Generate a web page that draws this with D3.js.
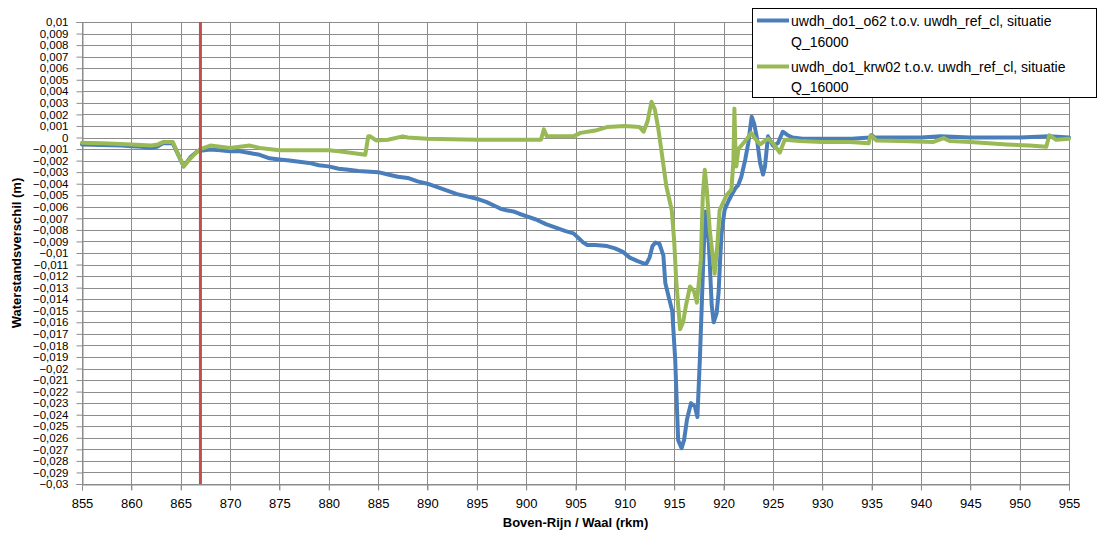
<!DOCTYPE html>
<html><head><meta charset="utf-8">
<script src="https://cdn.jsdelivr.net/npm/d3@7"></script>
<style>body{margin:0;background:#fff}svg{display:block}text{font-family:"Liberation Sans",Arial,sans-serif}</style>
</head><body><svg id="c" width="1099" height="535"></svg>
<script>
const seriesNames = ["uwdh_do1_o62 t.o.v. uwdh_ref_cl, situatie|Q_16000","uwdh_do1_krw02 t.o.v. uwdh_ref_cl, situatie|Q_16000"];
const xTicks = d3.range(855, 956, 5);
const yTicks = d3.range(-30, 11, 1).map(d => d / 1000);
const refKm = 867;
const blueKm = [855,857,859,860,861,862,862.6,863.2,864.2,865.3,866,866.7,867,868,869,870,871,872,873,874,875,876,877,878,879,880,881,882,883,885,886,887,888,889,890,891,892,893,894,895,896,897,897.5,898,898.7,899.3,900,901,902,903,904,904.8,905.3,905.8,906.2,907,908.2,909,909.8,910.5,911.3,911.9,912.2,912.5,912.8,913.1,913.5,913.9,914.1,914.5,914.8,915.1,915.4,915.75,916,916.3,916.7,917.1,917.35,917.6,917.95,918.15,918.5,918.8,919,919.3,919.5,919.65,919.8,920.1,920.5,920.8,921.2,921.5,921.8,922.2,922.5,922.85,923.1,923.35,923.7,924,924.2,924.5,925,925.5,926,926.5,927,928,930,933,934.8,935,935.3,940,942,945,950,953,955];
const blueVal = [-0.0006,-0.00065,-0.0007,-0.00075,-0.0008,-0.0009,-0.0008,-0.0005,-0.0005,-0.0025,-0.0017,-0.0012,-0.00115,-0.00105,-0.0011,-0.0012,-0.0012,-0.00135,-0.0015,-0.0018,-0.0019,-0.002,-0.0021,-0.0022,-0.0024,-0.0025,-0.0027,-0.0028,-0.0029,-0.003,-0.0032,-0.0034,-0.0035,-0.0038,-0.004,-0.0043,-0.0046,-0.0049,-0.0051,-0.0053,-0.0056,-0.006,-0.0062,-0.0063,-0.0064,-0.0066,-0.0068,-0.0071,-0.0075,-0.0078,-0.0081,-0.0083,-0.0087,-0.0091,-0.0093,-0.0093,-0.0094,-0.0096,-0.0099,-0.0104,-0.0107,-0.0109,-0.0109,-0.0104,-0.0094,-0.0091,-0.0092,-0.0102,-0.0126,-0.014,-0.015,-0.0192,-0.0262,-0.0269,-0.0262,-0.0244,-0.023,-0.0233,-0.0242,-0.0192,-0.0106,-0.0064,-0.009,-0.0145,-0.016,-0.0152,-0.0134,-0.0106,-0.0083,-0.0063,-0.0055,-0.005,-0.0044,-0.0041,-0.0034,-0.0019,-0.0005,0.0018,0.0012,0.0001,-0.0022,-0.0032,-0.0025,0.0001,-0.0007,-0.0005,0.0005,0.0002,0,-0.0001,-0.0001,-0.0001,0,0.0002,0,0,0.0001,0,0,0.0001,0];
const greenKm = [855,857,860,862,862.7,863.2,864.2,865.3,866,866.7,867,868,869,870,871,872,873,875,877,880,881,882,883.7,884,884.2,884.8,886,887.5,888,890,895,898,901.5,901.8,902.1,904.8,905.5,907,908.2,910,911.5,911.9,912.3,912.7,913.05,913.4,913.7,914.2,914.75,915,915.2,915.4,915.6,915.9,916.2,916.6,917,917.3,917.5,917.7,917.9,918.1,918.3,918.6,919.1,919.4,919.6,920.3,920.8,921,921.1,921.2,921.3,921.5,921.7,922.3,922.8,923.2,923.7,924.5,925,925.7,926.2,927.7,930,932.8,934.7,934.9,935.5,938,941.2,942.3,942.9,945,948.7,951,952.7,953,953.7,955];
const greenVal = [-0.00045,-0.0005,-0.0006,-0.0007,-0.0006,-0.0004,-0.0004,-0.0025,-0.0018,-0.0012,-0.001,-0.0007,-0.0008,-0.0009,-0.0008,-0.0007,-0.0009,-0.0011,-0.0011,-0.0011,-0.0012,-0.0013,-0.0015,0.0001,0.0001,-0.00025,-0.0002,0.0001,0,-0.0001,-0.0002,-0.0002,-0.0002,0.0007,0.0001,0.0001,0.0004,0.0006,0.0009,0.001,0.0009,0.0005,0.0014,0.0031,0.0024,0.0007,-0.0011,-0.0042,-0.0063,-0.009,-0.0123,-0.0145,-0.0166,-0.016,-0.0145,-0.0129,-0.0133,-0.0143,-0.0125,-0.0106,-0.005,-0.0028,-0.0045,-0.008,-0.0118,-0.009,-0.0063,-0.005,-0.0045,-0.002,0.0025,-0.001,-0.0025,-0.001,-0.0008,-0.0002,0.0004,-0.0001,-0.0006,-0.0001,-0.0005,-0.0013,-0.0002,-0.0003,-0.0004,-0.0004,-0.0005,0.0002,-0.00026,-0.0003,-0.0004,-0.00005,-0.0003,-0.0004,-0.0006,-0.0007,-0.0008,0.0002,-0.0002,-0.0001];
const colors = ["#4A7EBB","#98B954"];

const svg = d3.select("#c");
const L = 82, R = 1069, T = 22, B = 484;
const x = d3.scaleLinear().domain([855, 955]).range([L, R]);
const y = d3.scaleLinear().domain([-0.03, 0.01]).range([B, T]);
const grid = "#8c8c8c";
const fmt = d => d === 0 ? "0" : d3.format("")(+d.toFixed(3)).replace(".", ",");

svg.append("g").selectAll("line").data(yTicks).join("line")
  .attr("x1", L).attr("x2", R).attr("y1", d => Math.round(y(d)) + 0.5).attr("y2", d => Math.round(y(d)) + 0.5)
  .attr("stroke", grid).attr("stroke-width", 1);
svg.append("g").selectAll("line").data(xTicks).join("line")
  .attr("x1", d => Math.round(x(d)) + 0.5).attr("x2", d => Math.round(x(d)) + 0.5).attr("y1", T).attr("y2", B + 6)
  .attr("stroke", grid).attr("stroke-width", 1);

const ya = svg.append("g").attr("transform", `translate(${L + 0.5},0)`)
  .call(d3.axisLeft(y).tickValues(yTicks).tickFormat(fmt).tickSize(6).tickPadding(8));
ya.select(".domain").attr("stroke", grid);
ya.selectAll(".tick line").attr("stroke", grid);
ya.selectAll("text").attr("font-size", 11.5).attr("fill", "#000").attr("font-family", "Liberation Sans, Arial, sans-serif");
const xa = svg.append("g").attr("transform", `translate(0,${B + 0.5})`)
  .call(d3.axisBottom(x).tickValues(xTicks).tickFormat(d3.format("d")).tickSize(6).tickPadding(8));
xa.select(".domain").attr("stroke", grid);
xa.selectAll(".tick line").attr("stroke", grid);
xa.selectAll("text").attr("font-size", 13).attr("fill", "#000").attr("font-family", "Liberation Sans, Arial, sans-serif");

const line = d3.line().x(d => x(d[0])).y(d => y(d[1])).curve(d3.curveLinear);
const blue = blueKm.map((k, i) => [k, blueVal[i]]);
const green = greenKm.map((k, i) => [k, greenVal[i]]);
[blue, green].forEach((s, i) => {
  svg.append("path").datum(s).attr("d", line).attr("fill", "none")
    .attr("stroke", colors[i]).attr("stroke-width", 4).attr("stroke-linejoin", "round").attr("stroke-linecap", "round");
});

svg.append("line").attr("x1", x(refKm)).attr("x2", x(refKm)).attr("y1", T).attr("y2", B)
  .attr("stroke", "#C0504D").attr("stroke-width", 3);

svg.append("text").attr("transform", `translate(21,${(T + B) / 2}) rotate(-90)`).attr("text-anchor", "middle")
  .attr("font-size", 13).attr("font-weight", "bold").text("Waterstandsverschil (m)");
svg.append("text").attr("x", (L + R) / 2).attr("y", 527).attr("text-anchor", "middle")
  .attr("font-size", 13).attr("font-weight", "bold").text("Boven-Rijn / Waal (rkm)");

const lg = svg.append("g");
lg.append("rect").attr("x", 752.5).attr("y", 8.5).attr("width", 344).attr("height", 89)
  .attr("fill", "#fff").attr("stroke", "#000").attr("stroke-width", 1);
const rows = [[20.5, 26, 47], [66.5, 72, 92]];
seriesNames.forEach((n, i) => {
  const [ly, b1, b2] = rows[i];
  lg.append("line").attr("x1", 757).attr("x2", 789).attr("y1", ly).attr("y2", ly)
    .attr("stroke", colors[i]).attr("stroke-width", 4);
  const parts = n.split("|");
  lg.append("text").attr("x", 791).attr("y", b1).attr("font-size", 14).text(parts[0]);
  lg.append("text").attr("x", 791).attr("y", b2).attr("font-size", 14).text(parts[1]);
});
</script></body></html>
